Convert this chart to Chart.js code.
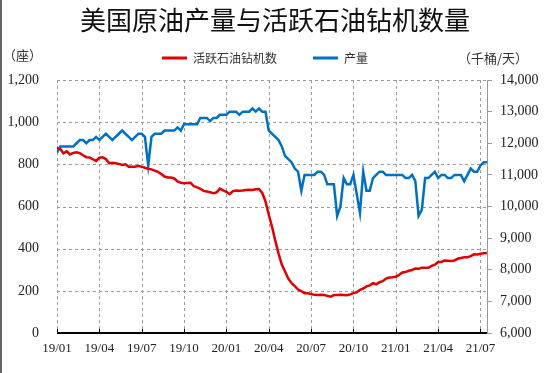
<!DOCTYPE html>
<html>
<head>
<meta charset="utf-8">
<script src="https://cdn.jsdelivr.net/npm/chart.js@4"></script>
<style>
  html, body { margin: 0; background: #fff; }
  #wrap { position: relative; width: 550px; height: 373px; }
  #edge { position: absolute; left: 0; top: 0; width: 2px; height: 373px; background: #666; }
</style>
</head>
<body>
<div id="wrap">
  <canvas id="rigChart" width="550" height="373"></canvas>
  <div id="edge"></div>
</div>
<script>
const chartTitle = "美国原油产量与活跃石油钻机数量"
const rigLabel = "活跃石油钻机数"
const outputLabel = "产量"
const leftUnit = "（座）"
const rightUnit = "（千桶/天）"

// one tick every 13 weeks, first week of 2019 = 0
const xTickLabels = ["19/01", "19/04", "19/07", "19/10", "20/01", "20/04", "20/07", "20/10", "21/01", "21/04", "21/07"]
const weeksPerTick = 13

// weekly active oil rigs (座)
const rigCount = [
    877, 873, 852, 862, 847, 854, 857, 853, 843, 834, 833, 824, 816,
    831, 833, 825, 805, 807, 805, 802, 797, 800, 789, 788, 789, 793,
    788, 784, 779, 776, 770, 764, 754, 742, 738, 738, 733, 719, 713,
    710, 712, 713, 696, 691, 684, 674, 671, 668, 663, 667, 685, 677,
    670, 659, 673, 676, 675, 676, 678, 679, 678, 682, 683, 664, 624,
    562, 504, 438, 378, 325, 292, 258, 237, 222, 206, 199, 189, 188,
    185, 181, 180, 181, 180, 176, 172, 180, 180, 181, 180, 179, 183,
    189, 193, 205, 211, 221, 226, 236, 231, 241, 246, 258, 263, 264,
    267, 275, 287, 289, 295, 299, 306, 305, 309, 310, 309, 318, 324,
    337, 337, 344, 343, 342, 344, 352, 356, 359, 359, 365, 373, 372,
    376, 378, 380
]

// weekly crude output (千桶/天)
const crudeOutput = [
    11700, 11900, 11900, 11900, 11900, 11900, 12000, 12100, 12100, 12000,
    12100, 12100, 12200, 12100, 12200, 12300, 12200, 12100, 12200, 12300,
    12400, 12300, 12200, 12100, 12200, 12300, 12300, 12200, 11300, 12200,
    12300, 12300, 12300, 12400, 12400, 12400, 12400, 12500, 12400, 12600,
    12600, 12600, 12600, 12600, 12800, 12800, 12800, 12700, 12800, 12800,
    12900, 12900, 12900, 13000, 13000, 13000, 12900, 13000, 13000, 13000,
    13100, 13000, 13100, 13000, 13000, 12400, 12300, 12200, 12100, 11900,
    11600, 11500, 11400, 11200, 11100, 10500, 11000, 11000, 11000, 11000,
    11100, 11100, 11000, 10700, 10700, 10700, 9700, 10000, 10900, 10700,
    10700, 11000, 10400, 9800, 11100, 10500, 10500, 10900, 11000, 11100,
    11100, 11000, 11000, 11000, 11000, 11000, 11000, 10900, 10900, 11000,
    10800, 9700, 9900, 10900, 10900, 11000, 11100, 10900, 11000, 11000,
    10900, 10900, 11000, 11000, 11000, 10800, 11000, 11200, 11100, 11100,
    11300, 11400, 11400
]

const RED = "#e00000"
const BLUE = "#0070c0"
const GRID = "#9a9a9a"
const serif = "'Liberation Serif', 'DejaVu Serif', serif"
const cjk = "'Noto Sans CJK SC', sans-serif"

// dashed grid under the lines, black category axis over them
const axesAndGrid = {
    id: "axesAndGrid",
    beforeDatasetsDraw(chart) {
        const { ctx, chartArea: a, scales: { x, y } } = chart
        ctx.save()
        ctx.fillStyle = GRID
        x.ticks.forEach(t => {
            const px = Math.round(x.getPixelForValue(t.value))
            for (let p = a.top; p < a.bottom - 1; p += 6) ctx.fillRect(px, p, 1, Math.min(3, a.bottom - 1 - p))
        })
        y.ticks.forEach(t => {
            if (t.value === 0) return
            const py = Math.round(y.getPixelForValue(t.value))
            for (let p = a.left; p < a.right; p += 6) ctx.fillRect(p, py, Math.min(3, a.right - p), 1)
        })
        ctx.restore()
    },
    afterDatasetsDraw(chart) {
        const { ctx, chartArea: a, scales: { x } } = chart
        ctx.save()
        ctx.fillStyle = "#000"
        ctx.fillRect(a.left, Math.round(a.bottom) - 1, a.right - a.left, 2)
        x.ticks.forEach(t => {
            const px = Math.round(x.getPixelForValue(t.value))
            ctx.fillRect(px, Math.round(a.bottom) - 4, 1, 4)
        })
        ctx.restore()
    }
}

// unit captions above both axes and the legend row
const header = {
    id: "header",
    afterDraw(chart) {
        const { ctx, chartArea } = chart
        const rowY = chartArea.top - 22
        ctx.save()
        ctx.font = `13px ${cjk}`
        ctx.fillStyle = "#333"
        ctx.textBaseline = "middle"
        ctx.textAlign = "left"
        ctx.fillText(leftUnit, 3, chartArea.top - 25)
        ctx.fillText(rightUnit, 458, chartArea.top - 22)

        ctx.font = `12px ${cjk}`
        chart.data.datasets.forEach((ds, i) => {
            const x = i === 0 ? 162 : 313
            ctx.fillStyle = ds.borderColor
            ctx.fillRect(x, rowY - 1.5, 25, 3)
            ctx.fillStyle = "#333"
            ctx.fillText(ds.label, x + 31, rowY)
        })
        ctx.restore()
    }
}

const toPoints = arr => arr.map((v, i) => ({ x: i, y: v }))

new Chart(document.getElementById("rigChart"), {
    type: "line",
    data: {
        datasets: [
            {
                label: rigLabel,
                data: toPoints(rigCount),
                yAxisID: "y",
                borderColor: RED,
                borderWidth: 2.5,
                pointRadius: 0,
                tension: 0
            },
            {
                label: outputLabel,
                data: toPoints(crudeOutput),
                yAxisID: "y1",
                borderColor: BLUE,
                borderWidth: 2.5,
                pointRadius: 0,
                tension: 0
            }
        ]
    },
    options: {
        responsive: false,
        animation: false,
        events: [],
        layout: { padding: { top: 2, left: 0, right: 0, bottom: 0 } },
        scales: {
            x: {
                type: "linear",
                min: 0,
                max: rigCount.length - 1,
                afterBuildTicks: scale => {
                    scale.ticks = xTickLabels.map((_, i) => ({ value: i * weeksPerTick }))
                },
                afterFit: scale => { scale.height = 40 },
                ticks: {
                    autoSkip: false,
                    maxRotation: 0,
                    padding: 8,
                    color: "#222",
                    font: { family: serif, size: 13 },
                    callback: v => xTickLabels[Math.round(v / weeksPerTick)]
                },
                grid: { display: false, drawTicks: false },
                border: { display: false }
            },
            y: {
                position: "left",
                min: 0,
                max: 1200,
                afterFit: scale => { scale.width = 57 },
                ticks: {
                    stepSize: 200,
                    padding: 18,
                    color: "#222",
                    font: { family: serif, size: 14 }
                },
                grid: { display: false, drawTicks: false },
                border: { display: false }
            },
            y1: {
                position: "right",
                min: 6000,
                max: 14000,
                afterFit: scale => { scale.width = 63 },
                ticks: {
                    stepSize: 1000,
                    padding: 8,
                    color: "#222",
                    font: { family: serif, size: 14 }
                },
                grid: { drawOnChartArea: false, color: "#999", tickLength: 5 },
                border: { color: "#999", width: 1 }
            }
        },
        plugins: {
            title: {
                display: true,
                text: chartTitle,
                color: "#111",
                font: { family: cjk, size: 26, weight: "normal" },
                padding: { top: 2.4, bottom: 44.4 }
            },
            legend: { display: false },
            tooltip: { enabled: false }
        }
    },
    plugins: [axesAndGrid, header]
})
</script>
</body>
</html>
